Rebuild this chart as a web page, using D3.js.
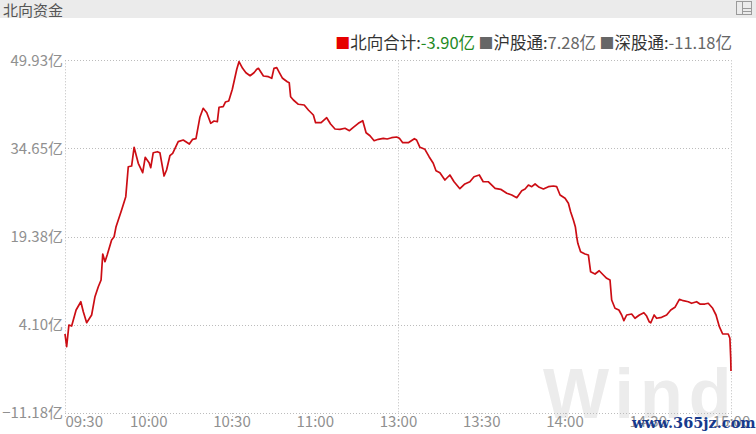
<!DOCTYPE html>
<html><head><meta charset="utf-8">
<script src="https://cdn.jsdelivr.net/npm/d3@7"></script>
<style>
html,body{margin:0;padding:0;background:#fff;}
svg{display:block;font-family:"Noto Sans CJK SC","Noto Sans",sans-serif;}
</style></head>
<body>
<svg id="chart" width="756" height="434"></svg>
<script>
const title = "北向资金";
const minutes = [0,0.6,1.4,2.4,4.0,5.7,6.6,7.8,9.6,10.8,
12.0,13.0,13.6,14.4,15.2,16.8,17.7,18.4,20.4,21.9,
22.8,24.0,24.9,26.4,28.0,28.9,30.3,30.9,31.8,33.3,
34.2,35.7,36.6,37.8,38.8,40.8,42.6,44.8,46.0,47.2,
48.6,49.8,51.1,52.5,53.7,54.9,55.5,57.0,57.8,59.0,
60.3,61.9,62.7,64.0,65.2,66.7,68.1,69.1,69.7,71.5,
73.3,74.5,75.3,76.3,77.2,78.4,80.1,80.8,81.3,82.3,
84.1,86.2,87.7,89.5,90.3,92.3,94.3,95.7,97.3,99.1,
100.9,102.5,103.9,105.7,107.3,108.5,109.9,111.4,112.9,114.7,
116.1,117.7,119.5,120.5,121.7,123.7,125.9,126.7,127.9,129.7,
131.2,132.7,133.7,135.1,136.9,138.7,140.2,142.3,144.1,145.9,
147.4,149.3,150.7,152.5,155.0,157.0,159.2,161.0,162.8,164.6,
165.8,167.0,168.2,169.4,170.9,172.4,174.2,176.0,177.2,178.4,
180.2,181.4,182.2,183.2,183.9,184.4,184.8,185.8,187.4,188.6,
189.4,191.0,192.5,194.0,195.2,196.4,197.0,198.2,199.6,200.6,
201.4,202.4,204.2,205.4,207.0,208.6,209.6,210.5,211.1,212.3,
213.2,215.0,216.8,218.3,219.8,221.4,222.8,224.6,225.8,227.6,
228.8,230.6,231.8,233.4,234.6,235.8,237.0,239.0,239.6,239.9,
240];
const values = [2.51,0.31,4.07,3.89,6.66,8.10,6.37,4.46,5.80,8.97,
10.70,11.86,16.37,15.03,16.19,18.79,19.36,21.10,23.99,26.30,
31.49,31.61,34.86,32.08,30.45,33.12,32.19,31.32,33.92,34.09,
33.92,29.88,30.92,33.40,33.82,35.83,36.12,35.43,36.24,36.35,
40.05,41.61,40.85,39.01,39.41,39.29,41.79,41.89,42.70,42.88,
44.91,48.37,49.69,48.54,47.78,47.26,47.78,48.37,48.54,47.21,
47.09,46.81,48.54,48.65,47.85,46.81,46.22,46.05,43.62,43.05,
42.31,42.18,41.32,40.45,39.12,39.12,39.98,38.89,38.03,37.97,
38.15,37.73,38.32,39.01,39.46,37.38,36.86,36.00,36.24,36.41,
36.29,36.52,36.64,36.41,35.65,35.65,36.35,36.12,34.86,34.51,
33.23,32.08,30.80,30.45,29.19,30.06,28.89,27.68,28.50,28.89,
29.76,30.06,28.89,28.89,27.75,27.58,26.89,26.59,26.12,27.34,
27.63,28.32,28.03,28.50,27.92,27.63,28.03,28.15,28.03,26.59,
26.02,25.15,23.70,22.26,21.10,19.36,18.22,16.77,16.37,16.20,
13.30,12.90,13.47,12.73,12.16,11.86,8.40,6.96,6.66,5.80,
4.81,5.80,5.97,5.23,5.80,6.20,5.62,4.64,4.46,5.80,
5.23,5.40,5.80,6.66,7.13,8.52,8.28,8.10,7.83,8.10,
7.70,7.70,7.83,6.96,5.80,3.77,2.51,2.51,1.76,-1.70,
-3.90];
const yTicks = [-11.18, 4.10, 19.38, 34.65, 49.93];
const xTickMinutes = [0,30,60,90,120,150,180,210,240];
const xTickLabels = ["09:30","10:00","10:30","11:00","13:00","13:30","14:00","14:30","15:00"];
const legendNames = ["北向合计","沪股通","深股通"];
const legendValues = ["-3.90亿","7.28亿","-11.18亿"];
const legendColors = ["#e60000","#666666","#666666"];
const legendValueColors = ["#1f8a1f","#666666","#666666"];

(function(){
const svg = d3.select("#chart");
const W = 756, H = 434;
const pL = 65, pR = 731, pT = 60.3, pB = 413;

// header
svg.append("rect").attr("x",0).attr("y",0).attr("width",W).attr("height",18).attr("fill","#ebebeb");
svg.append("text").attr("x",3).attr("y",15.5).attr("font-size",15).attr("fill","#555").text(title);
const ic = svg.append("g").attr("fill","none").attr("stroke","#9a9a9a").attr("stroke-width",1);
ic.append("rect").attr("x",736.5).attr("y",1.5).attr("width",15).attr("height",13);
ic.append("line").attr("x1",742.5).attr("x2",742.5).attr("y1",1.5).attr("y2",14.5);
ic.append("line").attr("x1",742.5).attr("x2",751.5).attr("y1",8.5).attr("y2",8.5);
ic.append("line").attr("x1",742.5).attr("x2",751.5).attr("y1",11.5).attr("y2",11.5);

const x = d3.scaleLinear().domain([0,240]).range([pL,pR]);
const y = d3.scaleLinear().domain([-11.18,49.93]).range([pB,pT]);

// watermark
svg.append("text").attr("x",543).attr("y",418).attr("font-family","Liberation Sans, Arial, sans-serif")
  .attr("font-weight","bold").attr("font-size",70).attr("fill","#ececec").attr("letter-spacing",6).text("Wind");

// grid
const grid = svg.append("g").attr("stroke","#bcbcbc").attr("stroke-width",1).attr("stroke-dasharray","1,2");
yTicks.forEach(v=>{
  const yy = Math.round(y(v))+0.5;
  grid.append("line").attr("x1",pL).attr("x2",pR).attr("y1",yy).attr("y2",yy);
});
[0,120,240].forEach(m=>{
  const xx = Math.round(x(m))+0.5;
  grid.append("line").attr("x1",xx).attr("x2",xx).attr("y1",pT).attr("y2",pB);
});
xTickMinutes.forEach(m=>{
  const xx = Math.round(x(m))+0.5;
  grid.append("line").attr("x1",xx).attr("x2",xx).attr("y1",pB).attr("y2",pB+5);
});

// y labels
const yAxis = d3.axisLeft(y).tickValues(yTicks).tickSize(0).tickPadding(2)
  .tickFormat(d=>d3.format(".2f")(d)+"亿");
const ya = svg.append("g").attr("transform",`translate(${pL},0)`).call(yAxis);
ya.select(".domain").remove();
ya.selectAll("text").attr("font-size",15).attr("fill","#909090").attr("font-family","Noto Sans CJK SC, sans-serif");

// x labels
const xAxis = d3.axisBottom(x).tickValues(xTickMinutes).tickSize(0).tickPadding(3)
  .tickFormat((d,i)=>xTickLabels[i]);
const xa = svg.append("g").attr("transform",`translate(0,${pB})`).call(xAxis);
xa.select(".domain").remove();
xa.selectAll("text").attr("font-size",15).attr("fill","#909090").attr("font-family","Noto Sans CJK SC, sans-serif");
xa.selectAll("text").filter((d,i)=>i===0).attr("text-anchor","start");

// line
const data = minutes.map((m,i)=>({m, v: values[i]}));
svg.append("path").datum(data)
  .attr("d", d3.line().x(d=>x(d.m)).y(d=>y(d.v)))
  .attr("fill","none").attr("stroke","#cc0d14").attr("stroke-width",1.7).attr("stroke-linejoin","round");

// legend
const lg = svg.append("text").attr("y",48.5).attr("font-size",16.5).attr("font-family","Noto Sans CJK SC, sans-serif");
legendNames.forEach((n,i)=>{
  lg.append("tspan").attr("fill",legendColors[i]).attr("font-size",15).text((i>0?" ":"")+"■");
  lg.append("tspan").attr("fill","#333").attr("font-size",16.5).text(n+":");
  lg.append("tspan").attr("fill",legendValueColors[i]).attr("font-size",16.5).text(legendValues[i]);
});
const lw = lg.node().getComputedTextLength();
lg.attr("x", 732 - lw);

// site text
svg.append("text").attr("x",632).attr("y",428).attr("font-family","DejaVu Serif, serif").attr("font-weight","bold")
  .attr("font-size",14.5).attr("fill","#173a8c").text("www.365jz.com");
})();
</script>
</body></html>
